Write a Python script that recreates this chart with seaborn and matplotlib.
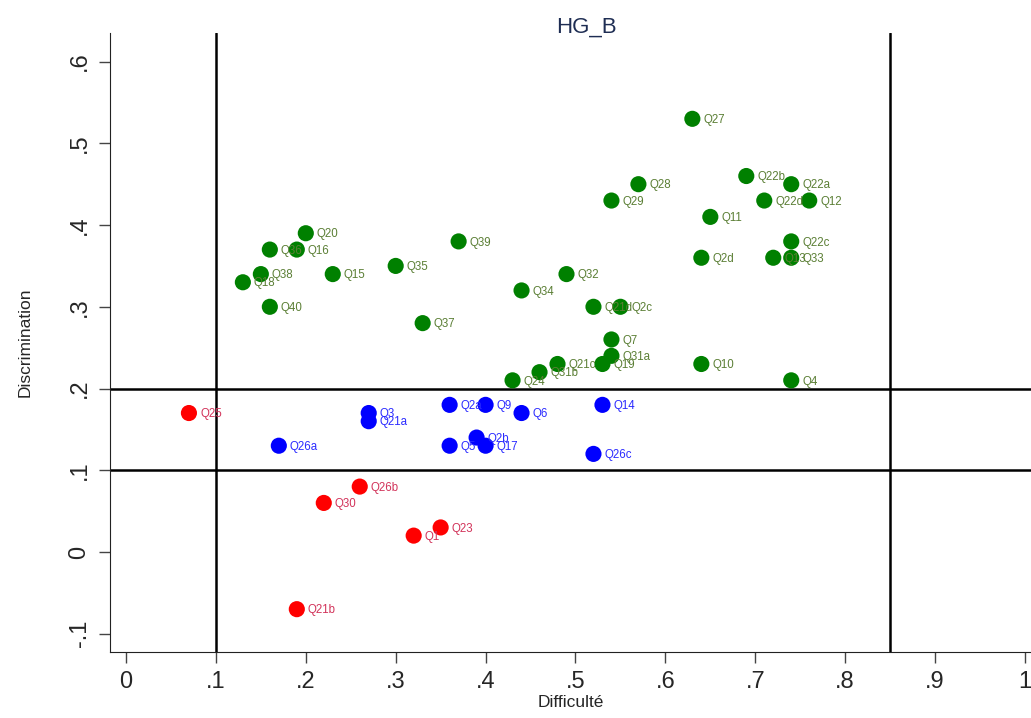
import pandas as pd
import matplotlib
matplotlib.use("Agg")
import matplotlib.pyplot as plt
import seaborn as sns

# -----------------------------
# DATA
# -----------------------------

labels = [
    "Q27", "Q28", "Q29", "Q22b", "Q22a", "Q22d", "Q12", "Q11", "Q22c", "Q2d",
    "Q13", "Q33", "Q20", "Q36", "Q16", "Q38", "Q18", "Q15", "Q35", "Q39",
    "Q40", "Q37", "Q32", "Q34", "Q21d", "Q2c", "Q7", "Q31a", "Q19", "Q21c",
    "Q31b", "Q24", "Q10", "Q4",
    "Q3", "Q21a", "Q26a", "Q2a", "Q9", "Q6", "Q14", "Q2b", "Q5", "Q17", "Q26c",
    "Q25", "Q26b", "Q30", "Q1", "Q23", "Q21b",
]
difficulte = [
    0.63, 0.57, 0.54, 0.69, 0.74, 0.71, 0.76, 0.65, 0.74, 0.64,
    0.72, 0.74, 0.20, 0.16, 0.19, 0.15, 0.13, 0.23, 0.30, 0.37,
    0.16, 0.33, 0.49, 0.44, 0.52, 0.55, 0.54, 0.54, 0.53, 0.48,
    0.46, 0.43, 0.64, 0.74,
    0.27, 0.27, 0.17, 0.36, 0.40, 0.44, 0.53, 0.39, 0.36, 0.40, 0.52,
    0.07, 0.26, 0.22, 0.32, 0.35, 0.19,
]
discrimination = [
    0.53, 0.45, 0.43, 0.46, 0.45, 0.43, 0.43, 0.41, 0.38, 0.36,
    0.36, 0.36, 0.39, 0.37, 0.37, 0.34, 0.33, 0.34, 0.35, 0.38,
    0.30, 0.28, 0.34, 0.32, 0.30, 0.30, 0.26, 0.24, 0.23, 0.23,
    0.22, 0.21, 0.23, 0.21,
    0.17, 0.16, 0.13, 0.18, 0.18, 0.17, 0.18, 0.14, 0.13, 0.13, 0.12,
    0.17, 0.08, 0.06, 0.02, 0.03, -0.07,
]
groupe = ["bon"] * 34 + ["moyen"] * 11 + ["faible"] * 6

x_ticks = [0, 0.1, 0.2, 0.3, 0.4, 0.5, 0.6, 0.7, 0.8, 0.9, 1.0]
x_tick_labels = ["0", ".1", ".2", ".3", ".4", ".5", ".6", ".7", ".8", ".9", "1"]
y_ticks = [-0.1, 0, 0.1, 0.2, 0.3, 0.4, 0.5, 0.6]
y_tick_labels = ["-.1", "0", ".1", ".2", ".3", ".4", ".5", ".6"]

df = pd.DataFrame({
    "label": labels,
    "Difficulte": difficulte,
    "Discrimination": discrimination,
    "groupe": groupe,
})

marker_colors = {"bon": "#008000", "moyen": "#0000ff", "faible": "#ff0000"}
text_colors = {"bon": "#5b7f35", "moyen": "#2b2bff", "faible": "#d2335a"}

# -----------------------------
# PLOT
# -----------------------------

sns.set_style("white")
plt.rcParams["font.family"] = ["Liberation Sans", "DejaVu Sans"]

fig = plt.figure(figsize=(10.31, 7.18), dpi=100)
ax = fig.add_axes([110 / 1031, (718 - 652) / 718, (1031 - 110) / 1031, (652 - 33) / 718])

sns.scatterplot(
    data=df, x="Difficulte", y="Discrimination", hue="groupe",
    palette=marker_colors, s=135, edgecolor="none", legend=False, ax=ax,
    zorder=3,
)

for _, row in df.iterrows():
    ax.annotate(
        row["label"], (row["Difficulte"], row["Discrimination"]),
        xytext=(8, -3), textcoords="offset points",
        fontsize=8.3, color=text_colors[row["groupe"]], zorder=4,
    )

# reference lines
for xv in [0.1, 0.85]:
    ax.axvline(xv, color="black", lw=1.8, zorder=2)
for yv in [0.1, 0.2]:
    ax.axhline(yv, color="black", lw=1.8, zorder=2)

ax.set_xlim(-0.0178, 1.0067)
ax.set_ylim(-0.1224, 0.635)

ax.set_xticks(x_ticks)
ax.set_xticklabels(x_tick_labels, fontsize=17)
ax.set_yticks(y_ticks)
ax.set_yticklabels(y_tick_labels, fontsize=17, rotation=90, va="center")
ax.tick_params(axis="both", direction="out", length=8, width=1, color="#444444",
               bottom=True, left=True, pad=6)

sns.despine(ax=ax, top=True, right=True)
ax.spines["left"].set_color("#222222")
ax.spines["bottom"].set_color("#222222")

ax.set_xlabel("Difficulté", fontsize=12.5, labelpad=1)
ax.set_ylabel("Discrimination", fontsize=12.5, labelpad=26)

fig.text(586 / 1031, 1 - 27 / 718, "HG_B", fontsize=16, color="#1e2d53",
         ha="center", va="center")

plt.savefig("out.png", dpi=100)
plt.close()
